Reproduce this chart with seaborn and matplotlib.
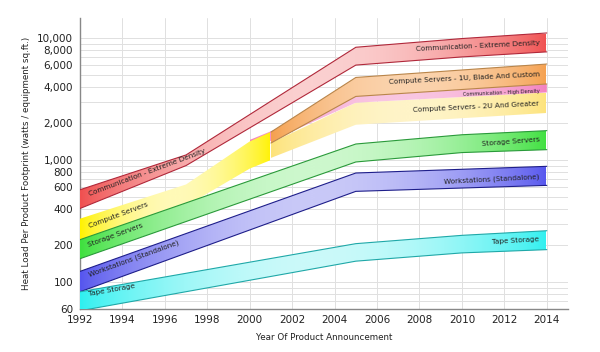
import numpy as np
import matplotlib
matplotlib.use("Agg")
import matplotlib.pyplot as plt
import matplotlib.colors as mcolors
from matplotlib.ticker import LogLocator, NullFormatter
import seaborn as sns

# --- Data ---
comm_ext_years = [1992, 1997, 2005, 2010, 2014]
comm_ext_lo = [400, 900, 6000, 7000, 7700]
comm_ext_hi = [570, 1100, 8400, 9900, 11000]

compute_years = [1992, 1997, 2000, 2001]
compute_lo = [215, 420, 850, 1000]
compute_hi = [330, 630, 1420, 1700]

blade_years = [2001, 2005, 2014]
blade_lo = [1377, 3320, 4200]
blade_hi = [1695, 4750, 6120]

comm_high_years = [2000, 2005, 2014]
comm_high_lo = [1200, 2950, 3580]
comm_high_hi = [1460, 3320, 4200]

twou_years = [2001, 2005, 2014]
twou_lo = [1040, 1945, 2430]
twou_hi = [1380, 2950, 3580]

storage_years = [1992, 2005, 2010, 2014]
storage_lo = [155, 963, 1150, 1215]
storage_hi = [222, 1352, 1610, 1740]

work_years = [1992, 2005, 2014]
work_lo = [83, 553, 619]
work_hi = [122, 782, 887]

tape_years = [1992, 2005, 2010, 2014]
tape_lo = [58, 148, 173, 184]
tape_hi = [83, 206, 241, 263]

y_ticks = [60, 100, 200, 400, 600, 800, 1000, 2000, 4000, 6000, 8000, 10000]
x_ticks = list(range(1992, 2015, 2))

# (years, lo, hi, saturated colour, pale colour, edge colour)
bands = [
    (twou_years, twou_lo, twou_hi, "#fde37a", "#fff4c8", None),
    (comm_high_years, comm_high_lo, comm_high_hi, "#f37fbf", "#f9c6e2", None),
    (blade_years, blade_lo, blade_hi, "#f5a04e", "#fbd3ad", "#b9854a"),
    (compute_years, compute_lo, compute_hi, "#fff200", "#fffab8", None),
    (storage_years, storage_lo, storage_hi, "#3fe03f", "#cdf8cd", "#2a9a3a"),
    (work_years, work_lo, work_hi, "#5656ee", "#c9c9f8", "#1e1e8a"),
    (tape_years, tape_lo, tape_hi, "#2ff0f0", "#cbfafa", "#1fa8a8"),
    (comm_ext_years, comm_ext_lo, comm_ext_hi, "#f05050", "#fbd0d0", "#b0283a"),
]

left_labels = [
    ("Communication - Extreme Density", 1992.4, 520, 20.5),
    ("Compute Servers", 1992.4, 284, 20.5),
    ("Storage Servers", 1992.4, 202, 20),
    ("Workstations (Standalone)", 1992.4, 115, 20),
    ("Tape Storage", 1992.4, 79, 10),
]
right_labels = [
    ("Communication - Extreme Density", 9200, 2.8, 5.2),
    ("Compute Servers - 1U, Blade And Custom", 5070, 2.9, 5.2),
    ("Communication - High Density", 3680, 2.5, 3.6),
    ("Compute Servers - 2U And Greater", 2890, 2.9, 5.2),
    ("Storage Servers", 1486, 4.5, 5.2),
    ("Workstations (Standalone)", 729, 3.0, 5.2),
    ("Tape Storage", 225, 3.4, 5.2),
]


def draw_band(ax, years, lo, hi, sat, pale, edge, z):
    poly = ax.fill_between(years, lo, hi, facecolor="none", edgecolor="none", zorder=z)
    t = np.linspace(0, 1, 256)
    w = np.sin(np.pi * t) ** 0.8
    c0 = np.array(mcolors.to_rgba(sat))
    c1 = np.array(mcolors.to_rgba(pale))
    img = c0[None, :] * (1 - w[:, None]) + c1[None, :] * w[:, None]
    im = ax.imshow(img[None, :, :], extent=[years[0], years[-1], min(lo), max(hi)],
                   aspect="auto", origin="lower", interpolation="bilinear", zorder=z)
    im.set_clip_path(poly.get_paths()[0], ax.transData)
    if edge is not None:
        sns.lineplot(x=years, y=hi, color=edge, lw=0.8, ax=ax, zorder=z + 0.5)
        sns.lineplot(x=years, y=lo, color=edge, lw=0.8, ax=ax, zorder=z + 0.5)


sns.set_theme(style="white")
plt.rcParams["font.family"] = ["DejaVu Sans"]

fig = plt.figure(figsize=(6, 3.52), dpi=100)
ax = fig.add_axes([0.1333, 0.1222, 0.8134, 0.8267])
ax.set_yscale("log")

for i, (yrs, lo, hi, sat, pale, edge) in enumerate(bands):
    draw_band(ax, yrs, lo, hi, sat, pale, edge, 2 + i)

for txt, x, y, rot in left_labels:
    ax.text(x, y, txt, fontsize=5.2, rotation=rot, rotation_mode="anchor",
            ha="left", va="center", color="#222222", zorder=20)
for txt, y, rot, fs in right_labels:
    ax.text(2013.65, y, txt, fontsize=fs, rotation=rot, rotation_mode="anchor",
            ha="right", va="center", color="#222222", zorder=20)

ax.set_xlim(1992, 2015)
ax.set_ylim(60, 14600)
ax.set_xticks(x_ticks)
ax.set_xticklabels([str(x) for x in x_ticks])
ax.set_yticks(y_ticks)
ax.set_yticklabels([f"{v:,}" for v in y_ticks])
ax.yaxis.set_minor_locator(LogLocator(base=10, subs=range(2, 10)))
ax.yaxis.set_minor_formatter(NullFormatter())

ax.grid(True, which="both", axis="y", color="#e0e0e0", lw=0.7, zorder=0)
ax.grid(True, which="major", axis="x", color="#e0e0e0", lw=0.7, zorder=0)
ax.set_axisbelow(True)

ax.tick_params(axis="y", which="major", direction="out", length=3, width=0.8,
               color="#888888", labelsize=7.5, pad=2, labelcolor="#222222")
ax.tick_params(axis="y", which="minor", length=0)
ax.tick_params(axis="x", which="major", direction="in", length=3, width=0.8,
               color="#888888", labelsize=7.5, pad=4, labelcolor="#222222")

for side in ["top", "right"]:
    ax.spines[side].set_visible(False)
for side in ["left", "bottom"]:
    ax.spines[side].set_color("#888888")
    ax.spines[side].set_linewidth(1.0)

ax.set_xlabel("Year Of Product Announcement", fontsize=6.3, color="#222222", labelpad=6)
ax.set_ylabel("Heat Load Per Product Footprint (watts / equipment sq.ft.)", fontsize=6.3,
              color="#222222", labelpad=4)

fig.savefig("out.png", dpi=100)
